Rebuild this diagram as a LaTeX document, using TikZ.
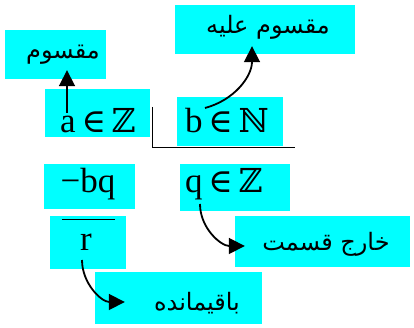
\documentclass[tikz,border=0pt]{standalone}
\usepackage{fontspec}
\setmainfont{Liberation Serif}
\newfontfamily\arabicfont[Script=Arabic]{DejaVu Sans}
\newfontfamily\symfont{DejaVu Serif}
\TeXXeTstate=1
\usetikzlibrary{arrows.meta,calc}
\definecolor{boxcyan}{RGB}{0,255,255}
\newcommand{\elem}{\,{\symfont\fontsize{33}{36}\selectfont ∈}\,}
\newcommand{\setZ}{{\symfont\fontsize{33}{36}\selectfont ℤ}}
\newcommand{\setN}{{\symfont\fontsize{33}{36}\selectfont ℕ}}
\begin{document}
\begin{tikzpicture}[x=1pt,y=1pt,
  box/.style={fill=boxcyan,draw=none,inner sep=0pt},
  mtext/.style={inner sep=0pt,anchor=base,font=\fontsize{35}{40}\selectfont},
  ptext/.style={inner sep=0pt,anchor=center,font=\fontsize{24}{28}\arabicfont},
  arr/.style={line width=1.8pt,-{Triangle[length=16pt,width=16pt]}},
  rule/.style={line width=0.9pt}]
\useasboundingbox (0,0) rectangle (414,328);
% boxes
\node[box,minimum width=101pt,minimum height=49pt] (dividendBox) at (55.5,273.5) {};
\node[box,minimum width=180pt,minimum height=49pt] (divisorBox) at (265,298.5) {};
\node[box,minimum width=105pt,minimum height=48pt] (aBox) at (97.5,215) {};
\node[box,minimum width=106pt,minimum height=49pt] (bBox) at (230,206.5) {};
\node[box,minimum width=91pt,minimum height=45pt] (bqBox) at (89.5,141.5) {};
\node[box,minimum width=110pt,minimum height=47pt] (qBox) at (235,140.5) {};
\node[box,minimum width=76pt,minimum height=53pt] (rBox) at (88,85.5) {};
\node[box,minimum width=175pt,minimum height=51pt] (quotBox) at (322.5,86.5) {};
\node[box,minimum width=167pt,minimum height=52pt] (remBox) at (178.5,30) {};
% texts
\node[ptext] (dividendText) at (63,273) {\beginR مقسوم\endR};
\node[ptext] (divisorText) at (268,301) {\beginR مقسوم علیه\endR};
\node[ptext] (quotText) at (326,84) {\beginR خارج قسمت\endR};
\node[ptext] (remText) at (197,25) {\beginR باقیمانده\endR};
\node[mtext] (aText) at (98,195) {a\elem\setZ};
\node[mtext] (bText) at (227,195) {b\elem\setN};
\node[mtext] (bqText) at (88,135) {−bq};
\node[mtext] (qText) at (224,135) {q\elem\setZ};
\node[mtext] (rText) at (86,77) {r};
% division lines
\draw[rule] ($(bText.base)+(-75,26)$) coordinate (vTop) -- ($(bText.base)+(-75,-14)$) coordinate (corner) -- ($(bText.base)+(68,-14)$) coordinate (hEnd);
\draw[rule] ($(rText.base)+(-24,32)$) coordinate (ovL) -- ($(rText.base)+(29,32)$) coordinate (ovR);
% arrows
\draw[arr] ($(aText.base)+(-31,20)$) -- ($(dividendBox.south)+(11.5,9)$);
\draw[arr] ($(bText.base)+(-22,25)$) to[out=15,in=-90] ($(divisorBox.south)+(-13,8)$);
\draw[arr] ($(qText.base)+(-24,-11)$) to[out=-90,in=180] ($(quotBox.west)+(10,-4.5)$);
\draw[arr] ($(rText.base)+(-4,-9)$) to[out=-90,in=180] ($(remBox.west)+(30,-4)$);
\end{tikzpicture}
\end{document}
